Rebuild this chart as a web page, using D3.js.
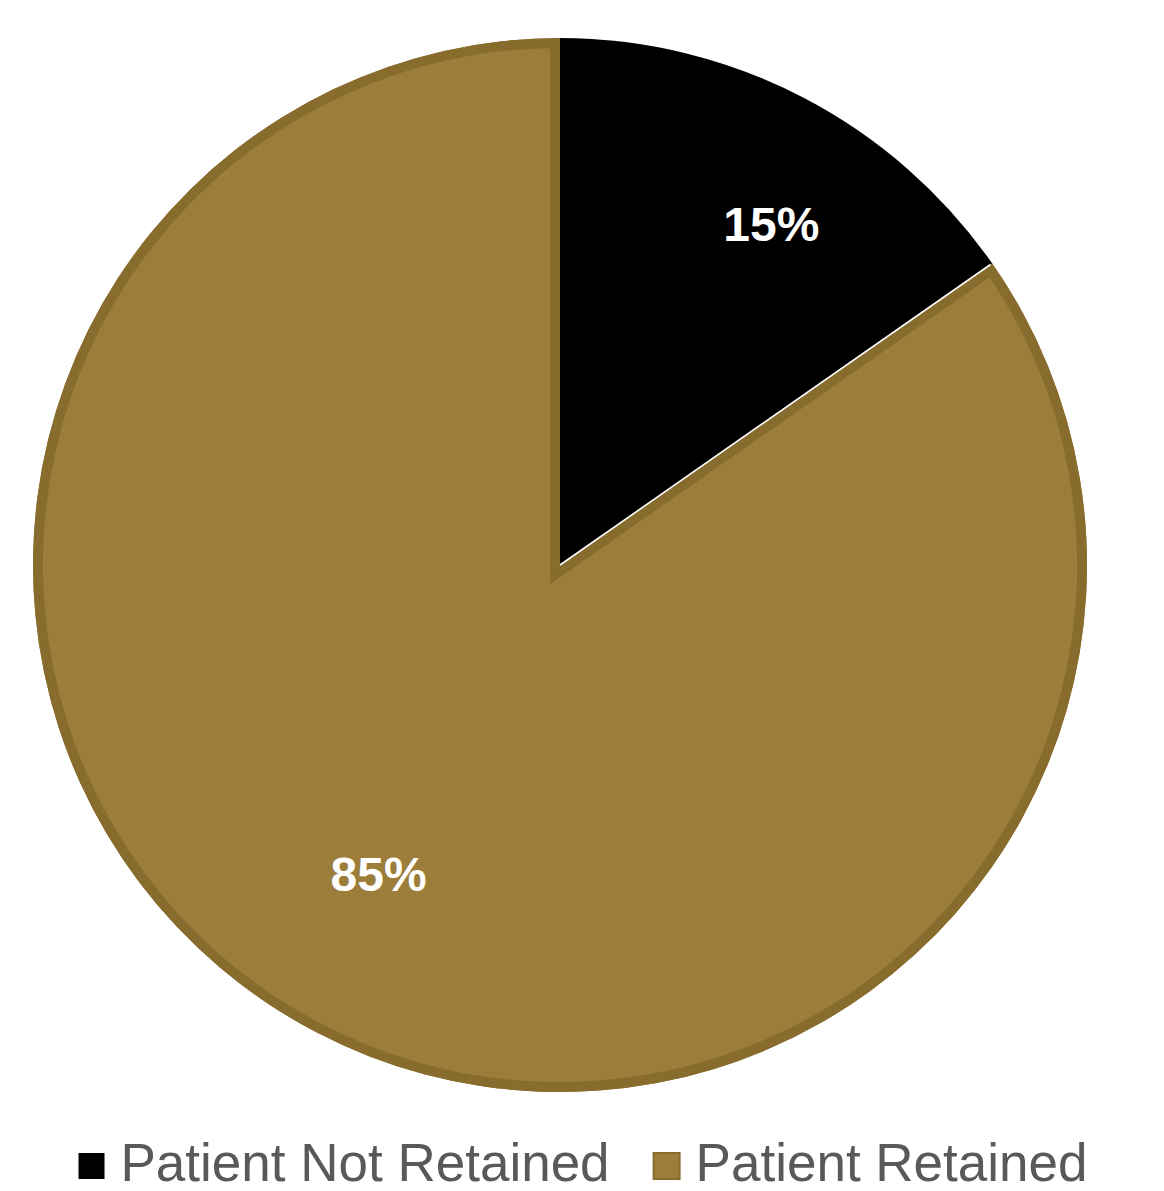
<!DOCTYPE html>
<html>
<head>
<meta charset="utf-8">
<script src="https://cdn.jsdelivr.net/npm/d3@7"></script>
<style>
  body { margin: 0; background: #fff; }
  svg { display: block; font-family: "Liberation Sans", Arial, sans-serif; }
</style>
</head>
<body>
<div id="chart"></div>
<script>
// data
var categories = ["Patient Not Retained", "Patient Retained"];
var values = [15.3, 84.7];
var colors = ["#000000", "#9c7e3a"];
var borders = ["none", "#876c2e"];

function init() {
    var w = 1164;
    var h = 1191;
    var cx = 560, cy = 565, r = 527;

    var svg = d3.select("#chart")
        .append("svg")
        .attr("width", w)
        .attr("height", h);

    var total = d3.sum(values);
    var pie = d3.pie().sort(null).value(function(d){ return d; });
    var slices = pie(values);

    var arc = d3.arc().innerRadius(0).outerRadius(r);

    var g = svg.append("g").attr("transform", "translate(" + cx + "," + cy + ")");

    var defs = svg.append("defs");
    slices.forEach(function(d, i){
        defs.append("clipPath").attr("id", "clip" + i)
            .append("path").attr("d", arc(d));
    });

    // draw the big slice first, then the small one over it
    var order = [1, 0];
    order.forEach(function(i){
        var d = slices[i];
        g.append("path")
            .attr("d", arc(d))
            .attr("fill", colors[i]);
        if (borders[i] != "none") {
            // inner border: double width stroke clipped to the slice
            g.append("path")
                .attr("d", arc(d))
                .attr("fill", "none")
                .attr("stroke", borders[i])
                .attr("stroke-width", 20)
                .attr("stroke-linejoin", "miter")
                .attr("clip-path", "url(#clip" + i + ")");
        }
    });

    // thin white edge between the slices along the diagonal
    var edge = d3.pointRadial(slices[0].endAngle, r - 2);
    g.append("line")
        .attr("x1", 0).attr("y1", 0)
        .attr("x2", edge[0]).attr("y2", edge[1])
        .attr("stroke", "#ffffff")
        .attr("stroke-width", 1.6);

    // percentage labels
    var labelR = [0.76, 0.68];
    var labelShift = [0.075, 0.05];
    slices.forEach(function(d, i){
        var a = (d.startAngle + d.endAngle) / 2 + labelShift[i];
        var p = d3.pointRadial(a, r * labelR[i]);
        g.append("text")
            .attr("x", p[0])
            .attr("y", p[1])
            .attr("text-anchor", "middle")
            .attr("dominant-baseline", "central")
            .attr("fill", "#ffffff")
            .attr("font-weight", "bold")
            .attr("font-size", 48)
            .text(Math.round(d.value / total * 100) + "%");
    });

    // legend
    var legend = svg.append("g");
    var box = 26, gap = 16, itemGap = 44, fs = 53;
    var x = 0;
    categories.forEach(function(c, i){
        var item = legend.append("g").attr("transform", "translate(" + x + ",0)");
        item.append("rect")
            .attr("x", 0).attr("y", -28)
            .attr("width", box).attr("height", box)
            .attr("fill", colors[i])
            .attr("stroke", borders[i] == "none" ? "none" : borders[i])
            .attr("stroke-width", 2);
        var t = item.append("text")
            .attr("x", box + gap)
            .attr("y", 0)
            .attr("fill", "#595959")
            .attr("font-size", fs)
            .text(c);
        x += box + gap + t.node().getComputedTextLength() + itemGap;
    });
    var lw = x - itemGap;
    legend.attr("transform", "translate(" + (583 - lw / 2) + ",1181)");
}

window.onload = init;
</script>
</body>
</html>
